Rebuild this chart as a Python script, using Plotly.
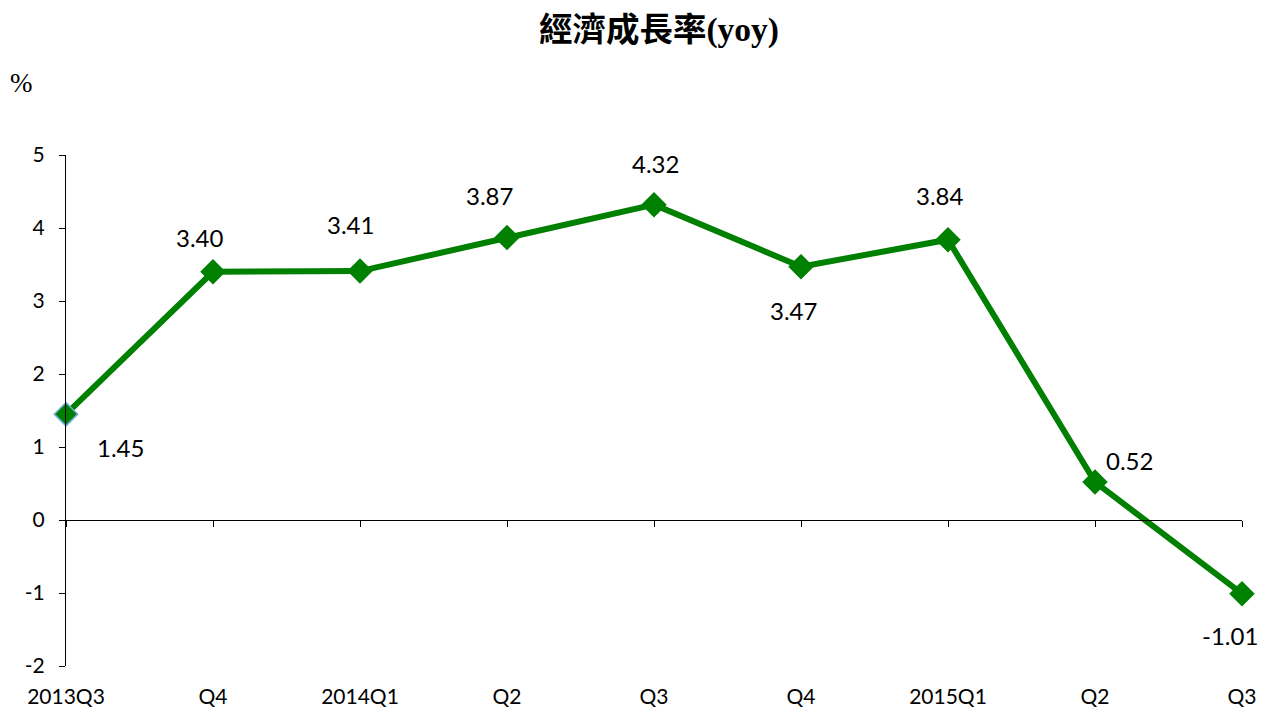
import plotly.graph_objects as go

categories = ["2013Q3", "Q4", "2014Q1", "Q2", "Q3", "Q4", "2015Q1", "Q2", "Q3"]
growth = [1.45, 3.40, 3.41, 3.87, 4.32, 3.47, 3.84, 0.52, -1.01]
labels = ["1.45", "3.40", "3.41", "3.87", "4.32", "3.47", "3.84", "0.52", "-1.01"]
label_dx = [54, -13, -10, -18, 1, -8, -8, 34, -12]
label_dy = [-33, 34, 47, 42, 41, -44, 44, 22, -42]
y_ticks = [-2, -1, 0, 1, 2, 3, 4, 5]
y_ticktext = ["-2", "-1", "0", "1", "2", "3", "4", "5"]

W, H = 1264, 708
ML, MR, MT, MB = 66, 22, 155, 42
PW, PH = W - ML - MR, H - MT - MB
xs = list(range(len(categories)))

fig = go.Figure()
fig.add_trace(go.Scatter(
    x=xs, y=growth, mode="lines+markers",
    line=dict(color="#008000", width=6),
    marker=dict(symbol="diamond", size=18, color="#008000",
                line=dict(color=["#6fa8dc"] + ["#008000"] * (len(xs) - 1), width=1.5)),
    cliponaxis=False, hoverinfo="x+y", showlegend=False,
))

for i, (v, t) in enumerate(zip(growth, labels)):
    fig.add_annotation(x=xs[i], y=v, text=t, showarrow=False,
                       xshift=label_dx[i], yshift=label_dy[i],
                       font=dict(family="Lato, Open Sans, sans-serif", size=24, color="#000000"))

fig.add_annotation(x=(21 - ML) / PW, y=(H - MB - 83) / PH, xref="paper", yref="paper", text="%",
                   showarrow=False, xanchor="center", yanchor="middle",
                   font=dict(family="Liberation Serif, serif", size=27, color="#000"))

ymin, ymax = -2, 5
fig.update_layout(
    width=W, height=H,
    margin=dict(l=ML, r=MR, t=MT, b=MB, autoexpand=False),
    paper_bgcolor="white", plot_bgcolor="white",
    title=dict(text="<b>經濟成長率(yoy)</b>", x=659 / W, xref="container", xanchor="center",
               y=1 - 29 / H, yref="container", yanchor="middle",
               font=dict(family="Liberation Serif, Noto Sans CJK TC, serif", size=33.5, color="#000")),
    xaxis=dict(range=[0, 8], tickmode="array", tickvals=xs, ticktext=categories,
               showline=False, ticks="", showgrid=False, zeroline=False, automargin=False,
               ticklabelstandoff=16,
               tickfont=dict(family="Lato, Open Sans, sans-serif", size=21, color="#000")),
    xaxis2=dict(range=[0, 8], overlaying="x", anchor="free", side="bottom",
                position=(0 - ymin) / (ymax - ymin), dtick=1, tick0=0, automargin=False,
                showline=True, linecolor="#000", linewidth=1,
                ticks="outside", ticklen=6, tickcolor="#000",
                showticklabels=False, showgrid=False, zeroline=False),
    yaxis=dict(range=[ymin, ymax], tickmode="array", tickvals=y_ticks, ticktext=y_ticktext,
               showline=True, linecolor="#000", automargin=False,
               linewidth=1, ticks="outside", ticklen=6, tickcolor="#000",
               showgrid=False, zeroline=False, ticklabelstandoff=10,
               tickfont=dict(family="Lato, Open Sans, sans-serif", size=21, color="#000")),
)
fig.add_trace(go.Scatter(x=[0, 8], y=[0, 0], xaxis="x2", mode="lines",
                         line=dict(width=0), hoverinfo="skip", showlegend=False))

fig.write_html("out.html", config={"displayModeBar": False},
               post_script="document.body.style.margin='0';document.body.style.padding='0';"
                           "document.body.style.overflow='hidden';")
